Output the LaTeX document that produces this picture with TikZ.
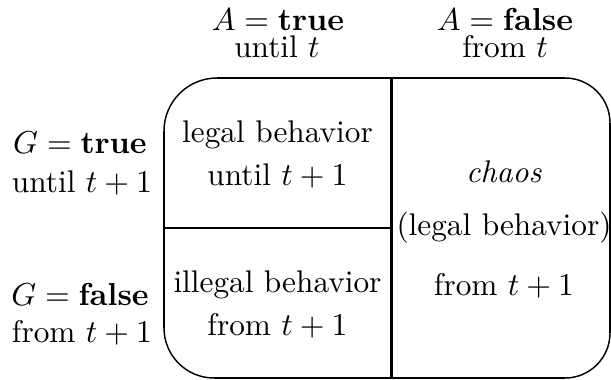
\documentclass[tikz,border=0pt]{standalone}
\usepackage{amsmath,amssymb}
\usepackage{tikz}
\tikzset{
  frm/.style={line width=0.95pt,black},
  crn/.style={line width=0.5pt,black},
  txt/.style={anchor=base,inner sep=0pt,font=\fontsize{10.8}{13}\selectfont}
}
\begin{document}
\begin{tikzpicture}[x=0.345pt,y=-0.345pt]
\useasboundingbox (0,0) rectangle (611,379);
% frame: straight sides thick, corners thin
\draw[frm] (217,78)--(565,78) (610,123)--(610,333) (565,378)--(214,378) (164,328)--(164,131);
\draw[crn] (164,131) arc[start angle=180,end angle=270,radius=53];
\draw[crn] (565,78) arc[start angle=270,end angle=360,radius=45];
\draw[crn] (610,333) arc[start angle=0,end angle=90,radius=45];
\draw[crn] (214,378) arc[start angle=90,end angle=180,radius=50];
% dividers
\coordinate (vtop) at (391.5,78);
\coordinate (vbot) at (391.5,378);
\coordinate (hl) at (164,228);
\coordinate (hr) at (391.5,228);
\draw[frm] (vtop)--(vbot);
\draw[frm] (hl)--(hr);
% column heads
\node[txt] (atrue) at (278,30) {$A=\mathbf{true}$};
\node[txt] (atrue2) at (277,57) {until $t$};
\node[txt] (afalse) at (505,30) {$A=\mathbf{false}$};
\node[txt] (afalse2) at (505,57) {from $t$};
% row heads
\node[txt] (gtrue) at (80,153) {$G=\mathbf{true}$};
\node[txt] (gtrue2) at (82,192) {until $t+1$};
\node[txt] (gfalse) at (80,305) {$G=\mathbf{false}$};
\node[txt] (gfalse2) at (82,342) {from $t+1$};
% cells
\node[txt] (legal) at (277.5,142) {legal behavior};
\node[txt] (legal2) at (277.5,185) {until $t+1$};
\node[txt] (illegal) at (277.5,292) {illegal behavior};
\node[txt] (illegal2) at (277.5,335) {from $t+1$};
\node[txt] (chaos) at (504,182) {\textit{chaos}};
\node[txt] (chaos2) at (504,235) {(legal behavior)};
\node[txt] (chaos3) at (504,295) {from $t+1$};
\end{tikzpicture}
\end{document}
